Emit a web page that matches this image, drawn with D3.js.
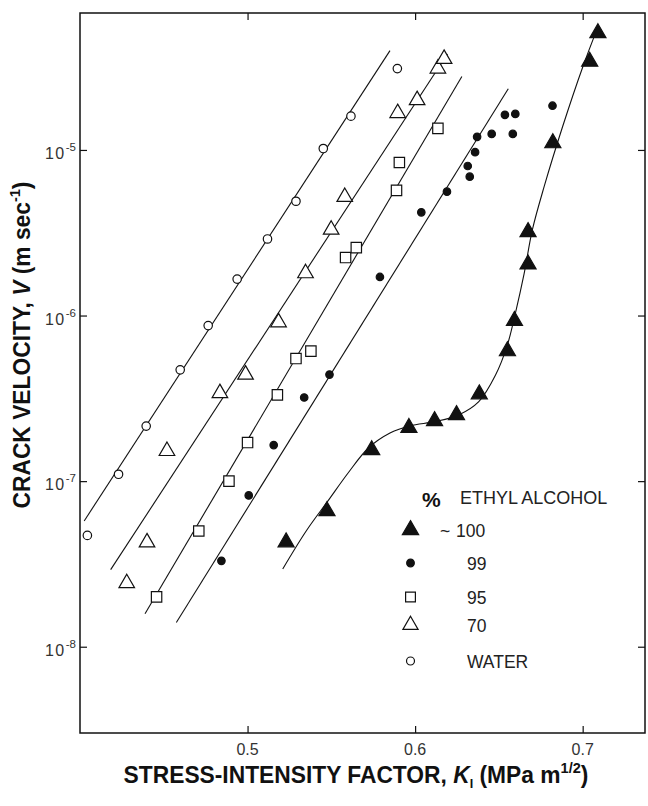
<!DOCTYPE html>
<html>
<head>
<meta charset="utf-8">
<script src="https://cdn.jsdelivr.net/npm/d3@7/dist/d3.min.js"></script>
<style>
html,body{margin:0;padding:0;background:#fff;}
svg{display:block;}
</style>
</head>
<body>
<svg id="chart" width="648" height="806"></svg>
<script>
// ---------------- DATA ----------------
// Stress-intensity factor K_I (MPa m^1/2) and crack velocity V (m/s)
const waterK = [0.4044,0.4230,0.4395,0.4598,0.4765,0.4938,0.5119,0.5289,0.5452,0.5617,0.5894];
const waterV = [4.7e-8,1.10e-7,2.15e-7,4.7e-7,8.7e-7,1.66e-6,2.9e-6,4.9e-6,1.02e-5,1.6e-5,3.1e-5];

const alc70K = [0.4279,0.4400,0.4519,0.4835,0.4988,0.5185,0.5346,0.5499,0.5580,0.5896,0.6012,0.6136,0.6173];
const alc70V = [2.42e-8,4.27e-8,1.52e-7,3.4e-7,4.4e-7,9.1e-7,1.8e-6,3.3e-6,5.2e-6,1.67e-5,2.0e-5,3.1e-5,3.55e-5];

const alc95K = [0.4457,0.4709,0.4889,0.5000,0.5178,0.5289,0.5378,0.5585,0.5649,0.5889,0.5906,0.6136];
const alc95V = [2.0e-8,5.0e-8,1.0e-7,1.71e-7,3.32e-7,5.5e-7,6.1e-7,2.24e-6,2.57e-6,5.7e-6,8.4e-6,1.35e-5];

const alc99K = [0.4844,0.5007,0.5156,0.5338,0.5489,0.5790,0.6037,0.6190,0.6314,0.6326,0.6358,0.6370,0.6457,0.6536,0.6598,0.6583,0.6820];
const alc99V = [3.3e-8,8.2e-8,1.65e-7,3.2e-7,4.4e-7,1.71e-6,4.2e-6,5.6e-6,8.0e-6,6.9e-6,9.7e-6,1.2e-5,1.25e-5,1.63e-5,1.65e-5,1.25e-5,1.85e-5];

const alc100K = [0.5230,0.5474,0.5741,0.5963,0.6116,0.6247,0.6383,0.6551,0.6593,0.6674,0.6674,0.6822,0.7042,0.7091];
const alc100V = [4.28e-8,6.6e-8,1.54e-7,2.1e-7,2.31e-7,2.51e-7,3.35e-7,6.1e-7,9.3e-7,2.04e-6,3.2e-6,1.1e-5,3.42e-5,5.08e-5];

// fitted lines (end points)
const fitWaterK = [0.4025,0.585];  const fitWaterV = [5.75e-8,3.98e-5];
const fit70K    = [0.4183,0.6193]; const fit70V    = [2.92e-8,3.80e-5];
const fit95K    = [0.4388,0.6279]; const fit95V    = [1.58e-8,2.78e-5];
const fit99K    = [0.4575,0.6556]; const fit99V    = [1.40e-8,2.34e-5];
// fitted curve for ~100 %
const fit100K = [0.521,0.535,0.548,0.560,0.572,0.585,0.597,0.612,0.626,0.638,0.648,0.655,0.660,0.665,0.670,0.677,0.688,0.700,0.709];
const fit100V = [2.95e-8,5.0e-8,7.6e-8,1.12e-7,1.58e-7,1.95e-7,2.16e-7,2.29e-7,2.51e-7,3.02e-7,4.37e-7,6.6e-7,1.05e-6,1.78e-6,3.3e-6,6.0e-6,1.38e-5,3.16e-5,5.5e-5];

const xTicks = [0.5,0.6,0.7];
const xTickLabels = ["0.5","0.6","0.7"];
const yTicks = [1e-5,1e-6,1e-7,1e-8];
const yTickExp = ["-5","-6","-7","-8"];

const legendLabels = ["~100","99","95","70","WATER"];
const legendTitle = "ETHYL ALCOHOL";

// ---------------- CHART ----------------
const svg = d3.select("#chart");
const L = 80, R = 645, T = 13, B = 733;
const x = d3.scaleLinear().domain([0.4, 0.7372]).range([L, R]);
const y = d3.scaleLog().domain([Math.pow(10,-8.521), Math.pow(10,-4.173)]).range([B, T]);

const ink = "#111";
const zip = (a,b) => a.map((v,i)=>[v,b[i]]);

// frame
svg.append("rect").attr("x",L).attr("y",T).attr("width",R-L).attr("height",B-T)
  .attr("fill","none").attr("stroke",ink).attr("stroke-width",1.5);

// axes with inward ticks
const tk = 7;
const styleAxis = g=>{g.select(".domain").remove(); g.selectAll("line").attr("stroke",ink).attr("stroke-width",1.2);};
svg.append("g").attr("transform",`translate(0,${B})`)
  .call(d3.axisBottom(x).tickValues(xTicks).tickSize(-tk).tickFormat("").tickSizeOuter(0)).call(styleAxis);
svg.append("g").attr("transform",`translate(0,${T})`)
  .call(d3.axisTop(x).tickValues(xTicks).tickSize(-tk).tickFormat("").tickSizeOuter(0)).call(styleAxis);
svg.append("g").attr("transform",`translate(${L},0)`)
  .call(d3.axisLeft(y).tickValues(yTicks).tickSize(-tk).tickFormat("").tickSizeOuter(0)).call(styleAxis);
svg.append("g").attr("transform",`translate(${R},0)`)
  .call(d3.axisRight(y).tickValues(yTicks).tickSize(-tk).tickFormat("").tickSizeOuter(0)).call(styleAxis);

// tick labels
const tickFont = "'Liberation Sans', Arial, sans-serif";
svg.append("g").selectAll("text").data(xTicks).join("text")
  .attr("x",d=>x(d)).attr("y",B+22).attr("text-anchor","middle")
  .attr("font-family",tickFont).attr("font-size",16).attr("fill","#333")
  .text((d,i)=>xTickLabels[i]);

const yl = svg.append("g").selectAll("text").data(yTicks).join("text")
  .attr("x",L-4).attr("y",d=>y(d)+9).attr("text-anchor","end")
  .attr("font-family",tickFont).attr("font-size",16).attr("fill","#333");
yl.append("tspan").attr("letter-spacing",1.5).text("10");
yl.append("tspan").attr("dy",-8).attr("font-size",11.5).text((d,i)=>yTickExp[i]);

// fitted lines
const line = d3.line().x(d=>x(d[0])).y(d=>y(d[1]));
const curve = d3.line().x(d=>x(d[0])).y(d=>y(d[1])).curve(d3.curveCatmullRom.alpha(0.5));
const fits = [[fitWaterK,fitWaterV],[fit70K,fit70V],[fit95K,fit95V],[fit99K,fit99V]];
svg.append("g").selectAll("path").data(fits).join("path")
  .attr("d",f=>line(zip(f[0],f[1]))).attr("fill","none").attr("stroke",ink).attr("stroke-width",1.1);
svg.append("path").attr("d",curve(zip(fit100K,fit100V))).attr("fill","none").attr("stroke",ink).attr("stroke-width",1.1);

// markers
const sym = {
  tri:   d3.symbol(d3.symbolTriangle, 112)(),
  otri:  d3.symbol(d3.symbolTriangle, 105)(),
  dot:   d3.symbol(d3.symbolCircle, 44)(),
  sq:    d3.symbol(d3.symbolSquare, 108)(),
  circ:  d3.symbol(d3.symbolCircle, 56)()
};
const series = [
  {k:alc100K, v:alc100V, s:"tri",  fill:ink},
  {k:alc99K,  v:alc99V,  s:"dot",  fill:ink},
  {k:alc95K,  v:alc95V,  s:"sq",   fill:"#fff"},
  {k:alc70K,  v:alc70V,  s:"otri", fill:"#fff"},
  {k:waterK,  v:waterV,  s:"circ", fill:"#fff"}
];
series.forEach(sr=>{
  svg.append("g").selectAll("path").data(zip(sr.k,sr.v)).join("path")
    .attr("transform",d=>`translate(${x(d[0])},${y(d[1])})`)
    .attr("d",sym[sr.s]).attr("fill",sr.fill).attr("stroke",ink).attr("stroke-width",1.2);
});

// legend
const lg = svg.append("g");
lg.append("text").attr("x",422).attr("y",507).attr("font-family",tickFont)
  .attr("font-weight","bold").attr("font-size",21).attr("fill",ink).text("%");
lg.append("text").attr("x",460).attr("y",504).attr("font-family",tickFont).attr("font-size",18)
  .attr("fill","#222").text(legendTitle);
const rows = [530,563,597,625,661];
const legSym = [d3.symbol(d3.symbolTriangle,115)(), d3.symbol(d3.symbolCircle,46)(), d3.symbol(d3.symbolSquare,96)(), d3.symbol(d3.symbolTriangle,100)(), d3.symbol(d3.symbolCircle,50)()];
series.forEach((sr,i)=>{
  lg.append("path").attr("transform",`translate(410.5,${rows[i]})`).attr("d",legSym[i])
    .attr("fill",sr.fill).attr("stroke",ink).attr("stroke-width",1.2);
  const t = lg.append("text").attr("y",rows[i]+6.5)
    .attr("font-family",tickFont).attr("font-size",17.5).attr("fill","#222");
  const lab = legendLabels[i];
  if (lab[0] === "~") {
    t.append("tspan").attr("x",440).text(lab[0]);
    t.append("tspan").attr("x",456).text(lab.slice(1));
  } else {
    t.attr("x",467).text(lab);
  }
});

// axis titles (bold)
const titleFont = "'Liberation Sans', Arial, sans-serif";
const xt = svg.append("g").attr("transform","translate(356,783) scale(0.97,1)")
  .append("text").attr("x",0).attr("y",0).attr("text-anchor","middle")
  .attr("font-family",titleFont).attr("font-weight","bold").attr("font-size",23.5).attr("fill",ink);
xt.append("tspan").text("STRESS-INTENSITY FACTOR, ");
xt.append("tspan").attr("font-style","italic").text("K");
xt.append("tspan").attr("font-size",13).attr("dy",5).text("I");
xt.append("tspan").attr("dy",-5).text(" (MPa m");
xt.append("tspan").attr("font-size",15).attr("dy",-10).text("1/2");
xt.append("tspan").attr("dy",10).text(")");

const ytt = svg.append("g").attr("transform","translate(30,345) rotate(-90) scale(0.97,1)")
  .append("text").attr("x",0).attr("y",0).attr("text-anchor","middle")
  .attr("font-family",titleFont).attr("font-weight","bold").attr("font-size",23.5).attr("fill",ink);
ytt.append("tspan").text("CRACK VELOCITY, ");
ytt.append("tspan").attr("font-style","italic").text("V");
ytt.append("tspan").text(" (m sec");
ytt.append("tspan").attr("font-size",15).attr("dy",-10).text("-1");
ytt.append("tspan").attr("dy",10).text(")");
</script>
</body>
</html>
